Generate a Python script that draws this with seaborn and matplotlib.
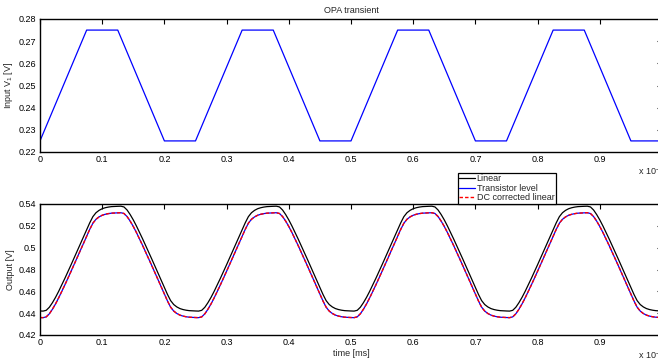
import numpy as np
import matplotlib
matplotlib.use("Agg")
import matplotlib.pyplot as plt
import seaborn as sns

sns.set_style("white")
plt.rcParams['font.family'] = ['Liberation Sans', 'DejaVu Sans']
plt.rcParams['mathtext.default'] = 'regular'

# input trapezoid, corner points (time in ms, volts)
t_in = [0, 0.075, 0.125, 0.2, 0.25, 0.325, 0.375, 0.45, 0.5,
        0.575, 0.625, 0.7, 0.75, 0.825, 0.875, 0.95, 1.0]
v_in = [0.225, 0.275, 0.275, 0.225, 0.225, 0.275, 0.275, 0.225, 0.225,
        0.275, 0.275, 0.225, 0.225, 0.275, 0.275, 0.225, 0.225]

# output every 5 us (0 .. 1 ms)
t_out = np.linspace(0, 1, 201)

out_linear = [
    0.4420, 0.4419, 0.4426, 0.4454, 0.4496, 0.4545, 0.4600, 0.4659, 0.4719, 0.4781,
    0.4844, 0.4908, 0.4971, 0.5035, 0.5099, 0.5164, 0.5228, 0.5284, 0.5320, 0.5342,
    0.5357, 0.5366, 0.5372, 0.5376, 0.5378, 0.5379, 0.5380, 0.5373, 0.5345, 0.5303,
    0.5254, 0.5199, 0.5140, 0.5080, 0.5018, 0.4955, 0.4892, 0.4828, 0.4764, 0.4700,
    0.4636, 0.4571, 0.4515, 0.4479, 0.4457, 0.4442, 0.4433, 0.4427, 0.4423, 0.4421,
    0.4420, 0.4419, 0.4426, 0.4454, 0.4496, 0.4545, 0.4600, 0.4659, 0.4719, 0.4781,
    0.4844, 0.4908, 0.4971, 0.5035, 0.5099, 0.5164, 0.5228, 0.5284, 0.5320, 0.5342,
    0.5357, 0.5366, 0.5372, 0.5376, 0.5378, 0.5379, 0.5380, 0.5373, 0.5345, 0.5303,
    0.5254, 0.5199, 0.5140, 0.5080, 0.5018, 0.4955, 0.4892, 0.4828, 0.4764, 0.4700,
    0.4636, 0.4571, 0.4515, 0.4479, 0.4457, 0.4442, 0.4433, 0.4427, 0.4423, 0.4421,
    0.4420, 0.4419, 0.4426, 0.4454, 0.4496, 0.4545, 0.4600, 0.4659, 0.4719, 0.4781,
    0.4844, 0.4908, 0.4971, 0.5035, 0.5099, 0.5164, 0.5228, 0.5284, 0.5320, 0.5342,
    0.5357, 0.5366, 0.5372, 0.5376, 0.5378, 0.5379, 0.5380, 0.5373, 0.5345, 0.5303,
    0.5254, 0.5199, 0.5140, 0.5080, 0.5018, 0.4955, 0.4892, 0.4828, 0.4764, 0.4700,
    0.4636, 0.4571, 0.4515, 0.4479, 0.4457, 0.4442, 0.4433, 0.4427, 0.4423, 0.4421,
    0.4420, 0.4419, 0.4426, 0.4454, 0.4496, 0.4545, 0.4600, 0.4659, 0.4719, 0.4781,
    0.4844, 0.4908, 0.4971, 0.5035, 0.5099, 0.5164, 0.5228, 0.5284, 0.5320, 0.5342,
    0.5357, 0.5366, 0.5372, 0.5376, 0.5378, 0.5379, 0.5380, 0.5373, 0.5345, 0.5303,
    0.5254, 0.5199, 0.5140, 0.5080, 0.5018, 0.4955, 0.4892, 0.4828, 0.4764, 0.4700,
    0.4636, 0.4571, 0.4515, 0.4479, 0.4457, 0.4442, 0.4433, 0.4427, 0.4423, 0.4421,
    0.4420]

out_transistor = [
    0.4360, 0.4359, 0.4366, 0.4394, 0.4436, 0.4485, 0.4540, 0.4599, 0.4659, 0.4721,
    0.4784, 0.4848, 0.4911, 0.4975, 0.5039, 0.5104, 0.5168, 0.5224, 0.5260, 0.5282,
    0.5297, 0.5306, 0.5312, 0.5316, 0.5318, 0.5319, 0.5320, 0.5313, 0.5285, 0.5243,
    0.5194, 0.5139, 0.5080, 0.5020, 0.4958, 0.4895, 0.4832, 0.4768, 0.4704, 0.4640,
    0.4576, 0.4511, 0.4455, 0.4419, 0.4397, 0.4382, 0.4373, 0.4367, 0.4363, 0.4361,
    0.4360, 0.4359, 0.4366, 0.4394, 0.4436, 0.4485, 0.4540, 0.4599, 0.4659, 0.4721,
    0.4784, 0.4848, 0.4911, 0.4975, 0.5039, 0.5104, 0.5168, 0.5224, 0.5260, 0.5282,
    0.5297, 0.5306, 0.5312, 0.5316, 0.5318, 0.5319, 0.5320, 0.5313, 0.5285, 0.5243,
    0.5194, 0.5139, 0.5080, 0.5020, 0.4958, 0.4895, 0.4832, 0.4768, 0.4704, 0.4640,
    0.4576, 0.4511, 0.4455, 0.4419, 0.4397, 0.4382, 0.4373, 0.4367, 0.4363, 0.4361,
    0.4360, 0.4359, 0.4366, 0.4394, 0.4436, 0.4485, 0.4540, 0.4599, 0.4659, 0.4721,
    0.4784, 0.4848, 0.4911, 0.4975, 0.5039, 0.5104, 0.5168, 0.5224, 0.5260, 0.5282,
    0.5297, 0.5306, 0.5312, 0.5316, 0.5318, 0.5319, 0.5320, 0.5313, 0.5285, 0.5243,
    0.5194, 0.5139, 0.5080, 0.5020, 0.4958, 0.4895, 0.4832, 0.4768, 0.4704, 0.4640,
    0.4576, 0.4511, 0.4455, 0.4419, 0.4397, 0.4382, 0.4373, 0.4367, 0.4363, 0.4361,
    0.4360, 0.4359, 0.4366, 0.4394, 0.4436, 0.4485, 0.4540, 0.4599, 0.4659, 0.4721,
    0.4784, 0.4848, 0.4911, 0.4975, 0.5039, 0.5104, 0.5168, 0.5224, 0.5260, 0.5282,
    0.5297, 0.5306, 0.5312, 0.5316, 0.5318, 0.5319, 0.5320, 0.5313, 0.5285, 0.5243,
    0.5194, 0.5139, 0.5080, 0.5020, 0.4958, 0.4895, 0.4832, 0.4768, 0.4704, 0.4640,
    0.4576, 0.4511, 0.4455, 0.4419, 0.4397, 0.4382, 0.4373, 0.4367, 0.4363, 0.4361,
    0.4360]

# DC corrected curve sits right on top of the transistor level curve
out_dc = list(out_transistor)

x_ticks = [0, 0.1, 0.2, 0.3, 0.4, 0.5, 0.6, 0.7, 0.8, 0.9, 1.0]
# the "1" label falls outside the cropped picture
x_labels = ['0', '0.1', '0.2', '0.3', '0.4', '0.5', '0.6', '0.7', '0.8', '0.9', '']
y1_ticks = [0.22, 0.23, 0.24, 0.25, 0.26, 0.27, 0.28]
y1_labels = ['0.22', '0.23', '0.24', '0.25', '0.26', '0.27', '0.28']
y2_ticks = [0.42, 0.44, 0.46, 0.48, 0.50, 0.52, 0.54]
y2_labels = ['0.42', '0.44', '0.46', '0.48', '0.5', '0.52', '0.54']

W, H = 658, 362
fig = plt.figure(figsize=(W / 100, H / 100), dpi=100)
# axes run a bit past the right edge like the (cropped) original
ax1 = fig.add_axes([40 / W, 1 - 152 / H, 622 / W, 133 / H])
ax2 = fig.add_axes([40 / W, 1 - 335 / H, 622 / W, 131 / H])

sns.lineplot(x=t_in, y=v_in, ax=ax1, color='b', lw=0.9)

sns.lineplot(x=t_out, y=out_linear, ax=ax2, color='k', lw=0.9, label='Linear')
sns.lineplot(x=t_out, y=out_transistor, ax=ax2, color='b', lw=0.9, label='Transistor level')
sns.lineplot(x=t_out, y=out_dc, ax=ax2, color='r', lw=1.0, label='DC corrected linear')
ax2.lines[-1].set_dashes([2.5, 1.5])


def style(ax, yt, yl, ylim):
    ax.set_xlim(0, 1)
    ax.set_ylim(*ylim)
    ax.set_xticks(x_ticks)
    ax.set_xticklabels(x_labels)
    ax.set_yticks(yt)
    ax.set_yticklabels(yl)
    ax.tick_params(direction='in', length=3.5, width=0.8, labelsize=6.5,
                   top=True, right=True, pad=2.5, colors='k')
    for s in ax.spines.values():
        s.set_linewidth(1.0)
        s.set_color('k')
        s.set_visible(True)


style(ax1, y1_ticks, y1_labels, (0.22, 0.28))
style(ax2, y2_ticks, y2_labels, (0.42, 0.54))

ax1.set_title('OPA transient', fontsize=6.5, pad=4)
ax1.set_ylabel('Input V$_1$ [V]', fontsize=6.5, labelpad=3)
ax1.set_xlabel('')
ax2.set_ylabel('Output [V]', fontsize=6.5, labelpad=3)
ax2.set_xlabel('time [ms]', fontsize=6.5, labelpad=1)

# MATLAB style exponent labels, cut off at the right edge as in the original
fig.text(638 / W, 1 - 171 / H, 'x 10$^{-3}$', fontsize=6.5, va='center', ha='left')
fig.text(638 / W, 1 - 355 / H, 'x 10$^{-3}$', fontsize=6.5, va='center', ha='left')

leg = ax2.legend(loc='upper left', bbox_to_anchor=(458 / W, 1 - 173 / H),
                 bbox_transform=fig.transFigure, borderaxespad=0, borderpad=0.15,
                 handlelength=1.7, handletextpad=0.2, labelspacing=0.05,
                 fontsize=6.5, frameon=True, fancybox=False, framealpha=1,
                 edgecolor='k')
leg.get_frame().set_linewidth(0.9)
leg.set_zorder(5)

fig.savefig('out.png', dpi=100)
